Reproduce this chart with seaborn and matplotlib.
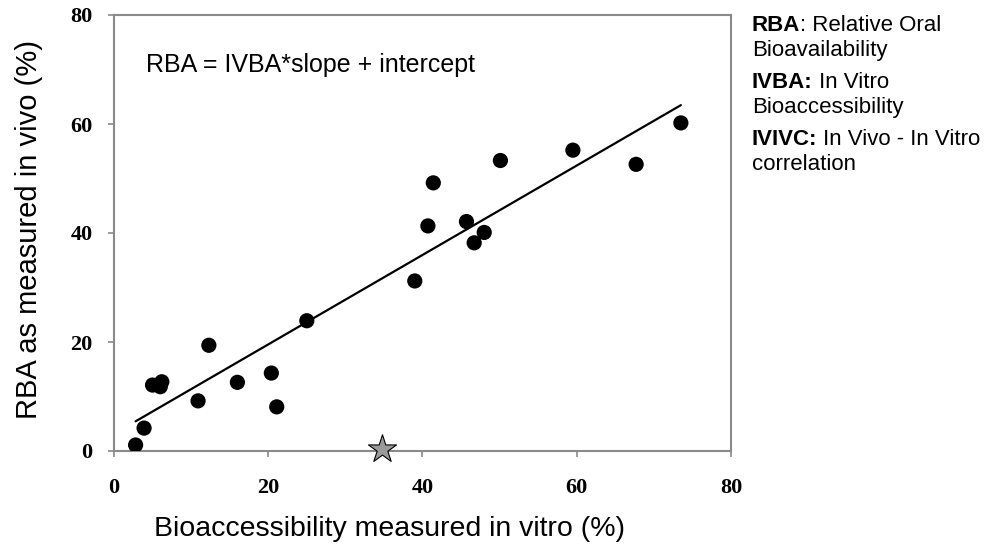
import matplotlib
matplotlib.use("Agg")
import matplotlib.pyplot as plt
import seaborn as sns
import numpy as np
import pandas as pd

# ---- data ----
ivba = [2.8, 3.9, 5.0, 6.2, 6.0, 10.9, 12.3, 16.0, 20.4, 21.1, 25.0,
        39.0, 40.7, 41.4, 45.7, 46.7, 48.0, 50.1, 59.5, 67.7, 73.5]
rba = [1.1, 4.2, 12.1, 12.7, 11.8, 9.2, 19.4, 12.6, 14.3, 8.1, 23.9,
       31.2, 41.3, 49.2, 42.1, 38.2, 40.1, 53.3, 55.2, 52.6, 60.2]
star_x = [34.7]
star_y = [0.4]
ticks = [0, 20, 40, 60, 80]

df = pd.DataFrame({"IVBA": ivba, "RBA": rba})
star_df = pd.DataFrame({"IVBA": star_x, "RBA": star_y})

sns.set_style("white", {"xtick.bottom": True, "ytick.left": True,
                        "text.color": "black", "axes.labelcolor": "black",
                        "xtick.color": "#808080", "ytick.color": "#808080"})
plt.rcParams["font.family"] = ["Liberation Sans", "DejaVu Sans"]

fig = plt.figure(figsize=(9.87, 5.55), dpi=100)
ax = fig.add_axes([114 / 987, 1 - 451 / 555, (731 - 114) / 987, (451 - 15) / 555])

sns.regplot(data=df, x="IVBA", y="RBA", ax=ax, ci=None, truncate=True,
            scatter_kws=dict(s=120, color="black", edgecolor="none", alpha=1,
                             zorder=3),
            line_kws=dict(color="black", lw=1.6, zorder=2))
sns.scatterplot(data=star_df, x="IVBA", y="RBA", ax=ax, marker="*", s=450,
                color="#9a9a9a", edgecolor="black", linewidth=0.8, zorder=4,
                clip_on=False)

ax.set_xlim(0, 80)
ax.set_ylim(0, 80)
ax.set_xticks(ticks)
ax.set_yticks(ticks)
ax.set_xticklabels([str(t) for t in ticks], family="Liberation Serif",
                   fontweight="bold", fontsize=16, color="black")
ax.set_yticklabels([str(t) for t in ticks], family="Liberation Serif",
                   fontweight="bold", fontsize=16, color="black")
ax.tick_params(axis="both", direction="out", length=4.5, width=1.2,
               color="#8a8a8a")
ax.tick_params(axis="x", pad=15)
ax.tick_params(axis="y", pad=11)
for sp in ax.spines.values():
    sp.set_color("#8a8a8a")
    sp.set_linewidth(1.5)
    sp.set_visible(True)

ax.set_xlabel("Bioaccessibility measured in vitro (%)", fontsize=20.5,
              color="black")
ax.set_ylabel("RBA as measured in vivo (%)", fontsize=21, color="black")
ax.xaxis.set_label_coords((390 - 114) / 617, (451 - 516) / 436)
ax.yaxis.set_label_coords((43 - 114) / 617, (451 - 229) / 436)

ax.text(146 / 987, 1 - 72 / 555, "RBA = IVBA*slope + intercept",
        transform=fig.transFigure, fontsize=18, ha="left", va="baseline",
        color="black")

# glossary on the right
entries = [("RBA", ": Relative Oral", "Bioavailability", 31),
           ("IVBA:", " In Vitro", "Bioaccessibility", 88),
           ("IVIVC:", " In Vivo - In Vitro", "correlation", 145)]
for bold, rest, second, ybase in entries:
    t = fig.text(752 / 987, 1 - ybase / 555, bold, fontsize=16,
                 fontweight="bold", ha="left", va="baseline", color="black")
    ax.annotate(rest, xy=(1, 0), xycoords=t, fontsize=16, color="black",
                ha="left", va="bottom", annotation_clip=False)
    fig.text(752 / 987, 1 - (ybase + 25) / 555, second, fontsize=16,
             ha="left", va="baseline", color="black")

fig.savefig("out.png", dpi=100, facecolor="white")
